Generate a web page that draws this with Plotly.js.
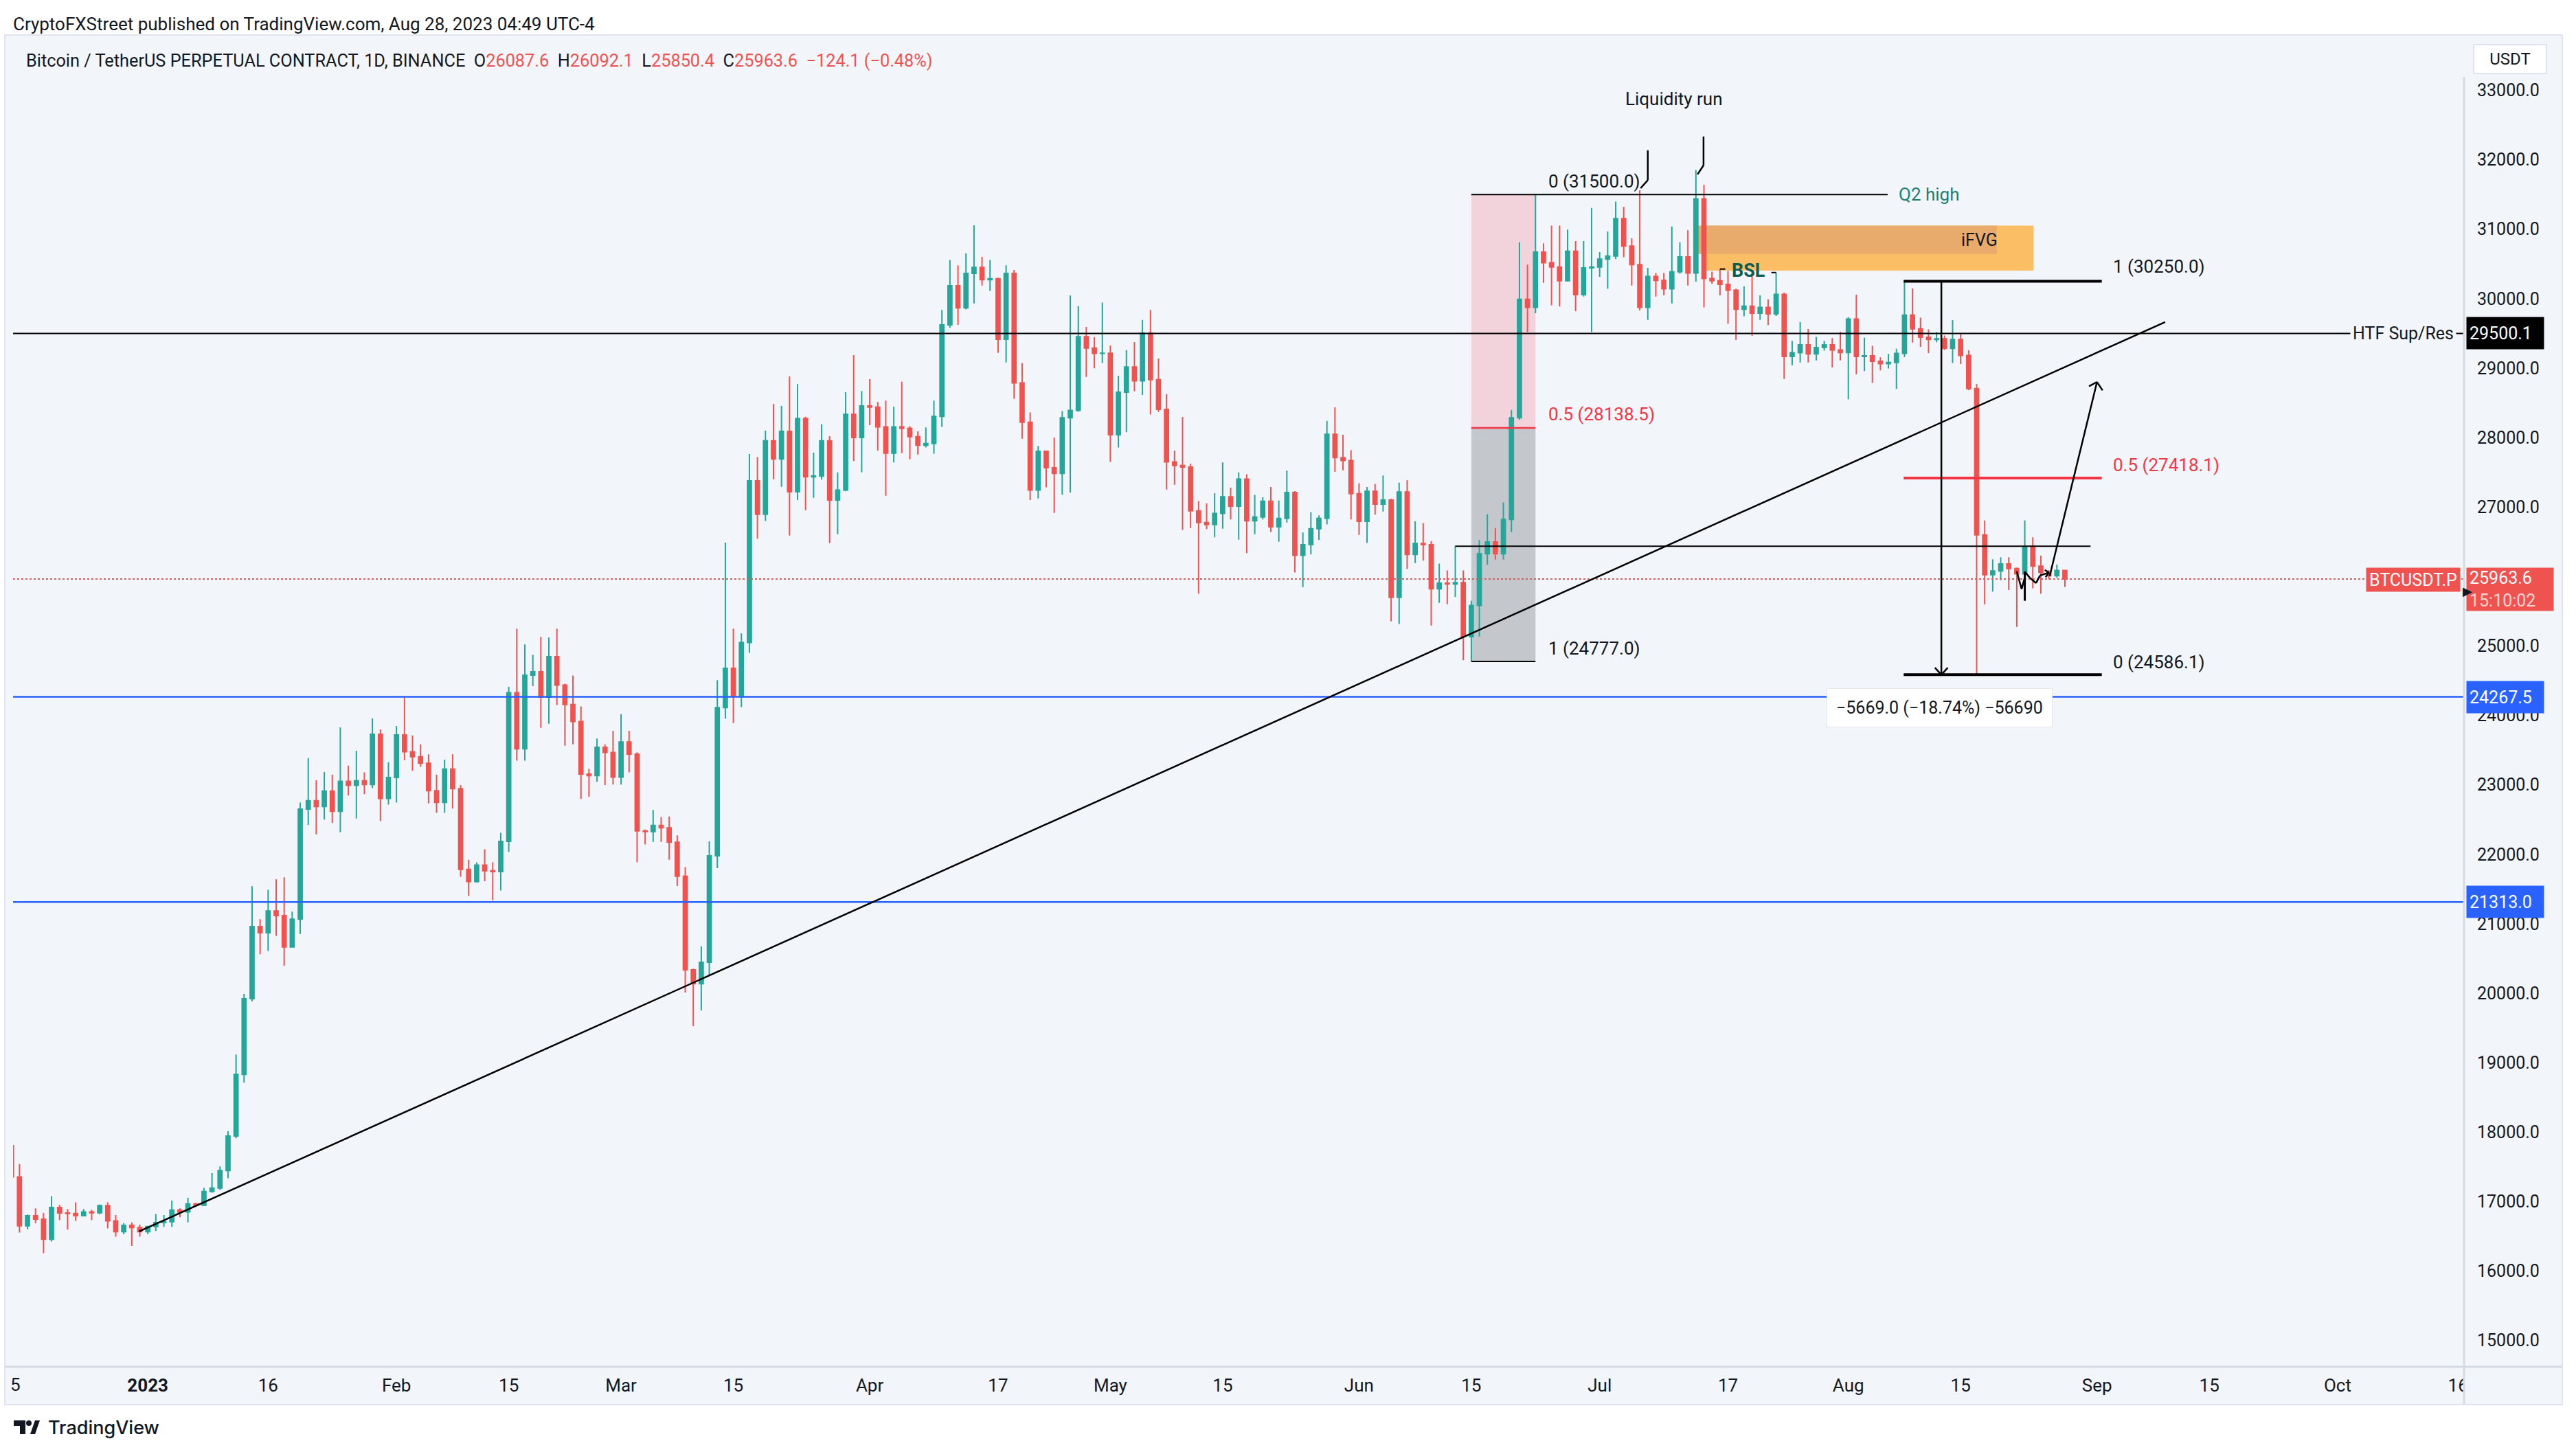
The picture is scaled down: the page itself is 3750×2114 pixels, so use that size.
<!DOCTYPE html>
<html><head><meta charset="utf-8">
<script src="https://cdn.plot.ly/plotly-3.0.1.min.js"></script>
<style>html,body{margin:0;padding:0;background:#fff;}#chart{width:3750px;height:2114px;}</style>
</head><body><div id="chart"></div>
<script>
// ---- Daily candles, BTCUSDT perpetual, from 2022-12-15 to 2023-08-28 ----
const firstDay = '2022-12-15';
const open = [
17806,17356,16651,16797,16748,16458,16916,16835,16829,16797,16852,16838,16942,16722,16567,16658,16626,
16567,16642,16697,16709,16877,16852,16968,16948,17146,17194,17446,17943,18832,19921,20959,20872,21186,21118,20665,21065,22650,22771,22688,22911,22620,23051,22994,23058,23005,23730,22805,
23107,23719,23477,23405,23311,22915,22748,23228,22945,21782,21608,21846,21763,21752,22186,24326,23519,24579,24628,24262,24847,24436,24157,23911,23156,23133,23541,23466,
23111,23617,23443,22337,22326,22416,22382,22175,21684,20336,20136,20446,21978,24111,24678,24274,25050,27378,26897,27953,27692,28089,27219,28275,27434,27447,27953,27101,27245,28335,28002,
28457,28438,28154,27775,28154,28135,28013,27889,27915,28305,29622,30186,29868,30364,30451,30273,30288,29414,30364,28786,28222,27245,27802,27567,27484,28286,28392,29452,29289,29213,
29216,28040,28653,29017,28816,29505,28835,28407,27650,27597,27575,26946,26776,26748,26907,27147,27013,27402,26801,26857,27083,26716,26836,27211,26306,26458,26688,26836,28048,27712,27670,
27193,26794,27228,27041,27101,25699,27218,26317,26476,26459,25822,25904,25893,25911,25133,25584,26328,26498,26328,26822,28286,29990,29876,30672,30518,30456,30257,30683,30058,30444,
30456,30569,30615,31154,30757,30490,29876,30319,30262,30143,30387,30603,30370,31438,30291,30257,30206,30121,29848,29893,29791,29876,29780,30064,29167,29223,29337,29206,29297,29337,29263,
29224,29706,29167,29178,29099,29065,29082,29212,29763,29567,29444,29413,29422,29285,29413,29183,28706,26600,26026,26079,26181,26114,26039,26432,26149,26057,26012,26087.6
];
const high = [
17850,17540,16813,16903,16835,17078,16952,16894,16990,16894,16884,16958,16990,16806,16690,16700,16667,
16651,16822,16806,17013,16903,17055,16980,17200,17410,17507,18014,19117,19990,21540,21065,21488,21639,21669,21174,22745,23386,23066,23186,23148,23828,23277,23492,23179,23957,23798,23326,
23847,24270,23711,23583,23439,23148,23364,23443,22998,21922,21884,22073,21884,22311,24413,25250,25021,24874,25130,25120,25250,24459,24575,24130,23230,23666,23583,23779,
24017,23779,23470,22356,22639,22537,22545,22273,21816,20355,20676,22186,24508,26488,25250,25180,27764,27718,28100,28483,28456,28880,28771,28300,27783,28191,28021,27499,28653,29187,28672,
28842,28513,28532,28445,28805,28165,28089,28146,28532,29838,30557,30481,30652,31057,30603,30557,30303,30481,30413,29073,28362,27881,27810,28002,28381,30046,29895,29592,29448,29944,
29327,28892,29259,29376,29694,29838,29138,28627,27813,28297,27624,27087,27052,27200,27642,27278,27500,27472,27175,27140,27288,27094,27525,27230,26635,26925,26882,28242,28436,28041,27818,
27341,27288,27334,27455,27119,27352,27387,26794,26769,26511,26186,26087,26440,26087,25650,26526,26895,26697,27066,28400,30813,30490,31500,30796,31052,31052,30995,30830,30830,31307,
30671,30967,31398,31324,30870,31560,30444,30370,30370,31040,30813,30984,31852,31637,30388,30427,30399,30144,30177,30399,30047,29990,30376,30087,29394,29666,29564,29450,29394,29433,29524,
29734,30058,29439,29320,29155,29206,29280,30257,30146,29726,29558,29519,29470,29691,29492,29258,28772,26807,26247,26278,26278,26130,26807,26565,26300,26090,26172,26092.1
];
const low = [
17275,16554,16603,16690,16257,16425,16732,16596,16722,16790,16732,16819,16613,16496,16529,16361,16496,
16529,16577,16635,16635,16774,16700,16926,16936,17129,17168,17336,17911,18712,19883,20563,20608,20827,20393,20657,20853,22420,22288,22499,22450,22318,22847,22514,22866,22952,22481,22715,
22745,23356,23202,23258,22733,22598,22598,22658,21676,21401,21593,21612,21337,21480,22035,23349,23349,24421,23821,23880,24149,23564,23583,22798,22830,23043,22998,23005,
23005,23179,21884,22141,22179,22179,21922,21544,20008,19525,19751,20261,21801,23953,23890,24119,24900,26545,26800,27400,27291,26590,27102,26954,27132,27396,26481,26609,27226,27662,27499,
28180,27813,27162,27643,27775,27688,27756,27858,27767,28154,29580,29622,29845,29933,30190,30110,29221,29081,28559,27984,27101,27124,27283,26916,27177,27207,28373,28873,28998,29073,
27650,27858,28078,28665,28615,28332,28369,27253,27320,26670,26697,25752,26682,26564,26688,26822,26529,26335,26610,26822,26642,26500,26776,26059,25847,26317,26528,26751,27507,27529,26822,
26600,26483,26892,26935,25353,25317,26106,26193,26229,25293,25621,25600,25706,24794,24777,25135,26168,26242,26242,26640,28258,29519,29791,30228,29905,29888,30246,29820,30030,29519,
30314,30143,30569,30598,30189,29831,29695,30030,30047,29933,30359,30189,30246,29876,30217,30047,29638,29405,29746,29467,29695,29621,29751,28843,29042,29082,29082,29110,29252,29013,29110,
28553,28911,28957,28786,28968,28996,28701,29159,29369,29307,29218,29373,29263,29073,29060,28680,24586,25598,25783,25950,25805,25275,25990,25827,25752,25960,25980,25850.4
];
const close = [
17356,16651,16797,16748,16458,16916,16835,16829,16797,16852,16838,16942,16722,16567,16658,16626,16567,
16642,16697,16709,16877,16852,16968,16948,17146,17194,17446,17943,18832,19921,20959,20872,21186,21118,20665,21065,22650,22771,22688,22911,22620,23051,22994,23058,23005,23730,22805,23107,
23719,23477,23405,23311,22915,22748,23228,22945,21782,21608,21846,21763,21752,22186,24326,23519,24579,24628,24262,24847,24436,24157,23911,23156,23133,23541,23466,23111,
23617,23443,22337,22326,22416,22382,22175,21684,20336,20136,20446,21978,24111,24678,24274,25050,27378,26897,27953,27692,28089,27219,28275,27434,27447,27953,27101,27245,28335,28002,28457,
28438,28154,27775,28154,28135,28013,27889,27915,28305,29622,30186,29868,30364,30451,30273,30288,29414,30364,28786,28222,27245,27802,27567,27484,28286,28392,29452,29289,29213,29216,
28040,28653,29017,28816,29505,28835,28407,27650,27597,27575,26946,26776,26748,26907,27147,27013,27402,26801,26857,27083,26716,26836,27211,26306,26458,26688,26836,28048,27712,27670,27193,
26794,27228,27041,27101,25699,27218,26317,26476,26459,25822,25904,25893,25911,25133,25584,26328,26498,26328,26822,28286,29990,29876,30672,30518,30456,30257,30683,30058,30444,30456,
30569,30615,31154,30757,30490,29876,30319,30262,30143,30387,30603,30370,31438,30291,30257,30206,30121,29848,29893,29791,29876,29780,30064,29167,29223,29337,29206,29297,29337,29263,29224,
29706,29167,29178,29099,29065,29082,29212,29763,29567,29444,29413,29422,29285,29413,29183,28706,26600,26026,26079,26181,26114,26039,26432,26149,26057,26012,26087.6,25963.6
];

// ---- Axis ticks (26000.0 is hidden behind the last-price tag in the source) ----
const priceTicks = [15000,16000,17000,18000,19000,20000,21000,22000,23000,24000,25000,27000,28000,29000,30000,31000,32000,33000];
const timeTickVals = ['2023-01-01','2023-01-16','2023-02-01','2023-02-15','2023-03-01','2023-03-15','2023-04-01','2023-04-17','2023-05-01','2023-05-15','2023-06-01','2023-06-15','2023-07-01','2023-07-17','2023-08-01','2023-08-15','2023-09-01','2023-09-15','2023-10-01','2023-10-16'];
const timeTickText = ['<b>2023</b>','16','Feb','15','Mar','15','Apr','17','May','15','Jun','15','Jul','17','Aug','15','Sep','15','Oct','16'];

// ---- Drawn levels ----
const htfLevel = 29500.1;
const blueLevels = [24267.5, 21313.0];
const lastPrice = 25963.6;
const fibA = [31500.0, 28138.5, 24777.0];
const fibB = [30250.0, 27418.1, 24586.1];
const rangeLine = 26435;
const ifvgLow = 30404, ifvgMid = 30643, ifvgHigh = 31052;

// ---- helpers ----
const W = 3750, H = 2114, PL = 19, PR = 3587, PT = 51, PB = 1990;
const BG = '#f2f6fa', INK = '#131722', RED = '#ef5350', GREEN = '#26a69a', FIBRED = '#f23645', BLUE = '#2962ff';
const F = 'Roboto, "Liberation Sans", sans-serif';
const px = v => v / W, py = v => 1 - v / H;
function D(s, f) {
  const p = s.split('-').map(Number);
  const t = Date.UTC(p[0], p[1] - 1, p[2]) + (f || 0) * 86400000;
  const iso = new Date(t).toISOString();
  return iso.slice(0, 10) + ' ' + iso.slice(11, 19);
}
const dates = close.map((_, i) => D(firstDay, i).slice(0, 10));

const shapes = [];
function seg(x0, y0, x1, y1, color, width, dash) {
  shapes.push({type: 'line', xref: 'x', yref: 'y', x0, y0, x1, y1, layer: 'above',
    line: {color, width, dash: dash || 'solid'}});
}
function poly(pts, color, width) {
  for (let i = 0; i < pts.length - 1; i++) seg(pts[i][0], pts[i][1], pts[i + 1][0], pts[i + 1][1], color, width);
}
function rect(x0, x1, y0, y1, fill) {
  shapes.push({type: 'rect', xref: 'x', yref: 'y', x0, x1, y0, y1, fillcolor: fill, line: {width: 0}, layer: 'below'});
}
function hline(y, color, width, dash) {
  shapes.push({type: 'line', xref: 'paper', yref: 'y', x0: px(PL), x1: px(PR), y0: y, y1: y, layer: 'above',
    line: {color, width, dash: dash || 'solid'}});
}

// panel background
shapes.push({type: 'rect', xref: 'paper', yref: 'paper', x0: px(7), x1: px(3730), y0: py(2045), y1: py(PT),
  fillcolor: BG, line: {color: '#e0e3eb', width: 2}, layer: 'below'});

// fib box A
rect('2023-06-15', '2023-06-23', fibA[1], fibA[0], '#f3d3db');
rect('2023-06-15', '2023-06-23', fibA[2], fibA[1], '#c4c7cb');
// iFVG
rect(D('2023-07-14', 0.2), D('2023-08-24', 0.1), ifvgLow, ifvgHigh, '#fbbe64');
rect(D('2023-07-13', 0.2), D('2023-08-19', 0.5), ifvgMid, ifvgHigh, '#e8ab6b');

// horizontal full-width levels
hline(htfLevel, '#000000', 2);
blueLevels.forEach(v => hline(v, BLUE, 2.5));
hline(lastPrice, RED, 2, 'dot');

// fib A lines
seg('2023-06-15', fibA[0], D('2023-08-05', 0.9), fibA[0], '#000', 2);
seg('2023-06-15', fibA[1], '2023-06-23', fibA[1], FIBRED, 2.5);
seg('2023-06-15', fibA[2], '2023-06-23', fibA[2], '#000', 2);
// range line
seg('2023-06-13', rangeLine, D('2023-08-31', 0.2), rangeLine, '#000', 2);
// fib B lines
seg(D('2023-08-07', 0.9), fibB[0], D('2023-09-01', 0.6), fibB[0], '#000', 4);
seg(D('2023-08-07', 0.9), fibB[1], D('2023-09-01', 0.6), fibB[1], FIBRED, 4);
seg(D('2023-08-07', 0.9), fibB[2], D('2023-09-01', 0.6), fibB[2], '#000', 4);
// trendline
seg(D('2022-12-30', 0.9), 16570, D('2023-09-09', 0.5), 29664, '#000', 2.5);
// measuring arrow
seg(D('2023-08-12', 0.6), fibB[0], D('2023-08-12', 0.6), fibB[2], '#000', 2.5);
seg(D('2023-08-12', 0.6), fibB[2], D('2023-08-11', 0.8), fibB[2] + 100, '#000', 2.5);
seg(D('2023-08-12', 0.6), fibB[2], D('2023-08-13', 0.4), fibB[2] + 100, '#000', 2.5);
// projected up arrow
seg(D('2023-08-26', 0.1), 26004, D('2023-09-01', 0), 28800, '#000', 2.5);
seg(D('2023-09-01', 0), 28800, D('2023-08-31', 0.0), 28740, '#000', 2.5);
seg(D('2023-09-01', 0), 28800, D('2023-09-01', 0.7), 28680, '#000', 2.5);
// squiggle
poly([[D('2023-08-22', 0), 26075], [D('2023-08-22', 0.6), 25820], [D('2023-08-23', 0), 25985]], '#000', 2.5);
seg(D('2023-08-23', 0), 26070, D('2023-08-23', 0), 25651, '#000', 3);
poly([[D('2023-08-23', 0), 26070], [D('2023-08-23', 0.6), 25985], [D('2023-08-24', 0.4), 25905],
      [D('2023-08-24', 0.9), 26015], [D('2023-08-26', 0), 26057]], '#000', 2.5);
seg(D('2023-08-26', 0), 26057, D('2023-08-25', 0.5), 26095, '#000', 2.5);
seg(D('2023-08-26', 0), 26057, D('2023-08-25', 0.6), 25990, '#000', 2.5);
// liquidity hooks
poly([[D('2023-07-07', 0), 32136], [D('2023-07-07', 0), 31705], [D('2023-07-06', 0.1), 31591]], '#000', 2.5);
poly([[D('2023-07-13', 0.95), 32335], [D('2023-07-13', 0.95), 31920], [D('2023-07-13', 0.2), 31790]], '#000', 2.5);
// BSL ticks
seg('2023-07-16', 30427, D('2023-07-16', 0.65), 30427, '#000', 2);
seg(D('2023-07-22', 0.4), 30376, '2023-07-23', 30376, '#000', 2);

// paper overlays: axis separators, logo
shapes.push({type: 'rect', xref: 'paper', yref: 'paper', x0: px(PR), x1: px(3729), y0: py(2044), y1: py(PB),
  fillcolor: BG, line: {width: 0}, layer: 'above'});
shapes.push({type: 'line', xref: 'paper', yref: 'paper', x0: px(8), x1: px(3729), y0: py(PB), y1: py(PB),
  line: {color: '#d6dbe1', width: 3}, layer: 'above'});
shapes.push({type: 'line', xref: 'paper', yref: 'paper', x0: px(PR), x1: px(PR), y0: py(2044), y1: py(112),
  line: {color: '#d6dbe1', width: 3}, layer: 'above'});
[[20, 37, 2068, 2076], [29, 37, 2068, 2088]].forEach(r => shapes.push({type: 'rect', xref: 'paper', yref: 'paper',
  x0: px(r[0]), x1: px(r[1]), y0: py(r[3]), y1: py(r[2]), fillcolor: INK, line: {width: 0}}));
shapes.push({type: 'circle', xref: 'paper', yref: 'paper', x0: px(38), x1: px(46), y0: py(2076), y1: py(2068),
  fillcolor: INK, line: {width: 0}});
shapes.push({type: 'path', xref: 'paper', yref: 'paper',
  path: `M ${px(44)} ${py(2088)} L ${px(51)} ${py(2068)} L ${px(58)} ${py(2068)} L ${px(51)} ${py(2088)} Z`,
  fillcolor: INK, line: {width: 0}});

// ---- annotations ----
const ann = [];
function txt(x, y, text, o) {
  ann.push(Object.assign({x, y, xref: 'x', yref: 'y', text, showarrow: false, xanchor: 'left', yanchor: 'middle',
    font: {family: F, size: 26, color: INK}}, o || {}));
}
function ptxt(x, y, text, o) {
  ann.push(Object.assign({x: px(x), y: py(y), xref: 'paper', yref: 'paper', text, showarrow: false,
    xanchor: 'left', yanchor: 'middle', font: {family: F, size: 26, color: INK}}, o || {}));
}
const r = s => `<span style="color:${RED}">${s}</span>`;
ptxt(17, 35, 'CryptoFXStreet published on TradingView.com, Aug 28, 2023 04:49 UTC-4');
ptxt(36, 88, 'Bitcoin / TetherUS PERPETUAL CONTRACT, 1D, BINANCE&nbsp; O' + r('26087.6') + '&nbsp; H' + r('26092.1') +
  '&nbsp; L' + r('25850.4') + '&nbsp; C' + r('25963.6') + '&nbsp; ' + r('−124.1 (−0.48%)'),
  {font: {family: F, size: 25.3, color: INK}});
ptxt(3654, 86, 'USDT', {xanchor: 'center', bgcolor: '#ffffff', bordercolor: '#e0e3eb', borderwidth: 2, borderpad: 6,
  width: 92, font: {family: F, size: 24, color: INK}});
ptxt(22, 2016, '5', {xanchor: 'center', font: {family: F, size: 26, color: INK}});
ptxt(68, 2078, 'TradingView', {font: {family: 'Inter, Roboto, sans-serif', size: 27, color: INK, weight: 500}});

txt(D('2023-06-24', 0.4), 31693, '0 (31500.0)');
txt(D('2023-06-24', 0.4), 28335, '0.5 (28138.5)', {font: {family: F, size: 26, color: FIBRED}});
txt(D('2023-06-24', 0.4), 24962, '1 (24777.0)');
txt(D('2023-09-02', 0.8), 30462, '1 (30250.0)');
txt(D('2023-09-02', 0.8), 27606, '0.5 (27418.1)', {font: {family: F, size: 26, color: FIBRED}});
txt(D('2023-09-02', 0.8), 24768, '0 (24586.1)');
txt(D('2023-07-10', 0.3), 32874, 'Liquidity run', {xanchor: 'center'});
txt(D('2023-08-07', 0.1), fibA[0], 'Q2 high', {font: {family: F, size: 26, color: '#1f7f70'}});
txt(D('2023-08-17', 0.3), 30846, 'iFVG', {xanchor: 'center', font: {family: F, size: 25, color: INK}});
txt(D('2023-07-19', 0.6), 30400, '<b>BSL</b>', {xanchor: 'center', font: {family: F, size: 27, color: '#0e5c50'}});
txt(D('2023-08-12', 0.4), 24106, '−5669.0 (−18.74%) −56690', {xanchor: 'center', bgcolor: '#ffffff',
  bordercolor: '#e3e6ec', borderwidth: 1, borderpad: 13, font: {family: F, size: 25, color: INK}});
// HTF label masking the level line
ann.push({xref: 'paper', yref: 'y', x: px(3498), y: htfLevel, text: 'HTF Sup/Res', showarrow: false,
  xanchor: 'center', yanchor: 'middle', bgcolor: BG, borderpad: 3, font: {family: F, size: 25, color: INK}});
// price-axis tags
function tag(y, text, bg, w, h) {
  ann.push({xref: 'paper', yref: 'y', x: px(3590), y, text, showarrow: false, xanchor: 'left', yanchor: 'middle',
    align: 'left', width: w, height: h, bgcolor: bg, borderpad: 4, font: {family: F, size: 25, color: '#ffffff'}});
}
tag(htfLevel, '29500.1', '#000000', 104, 38);
tag(blueLevels[0], '24267.5', BLUE, 104, 38);
tag(blueLevels[1], '21313.0', BLUE, 104, 38);
tag(lastPrice - 148, '25963.6<br><span style="color:rgba(255,255,255,0.75)">15:10:02</span>', RED, 118, 54);
ann.push({xref: 'paper', yref: 'paper', x: px(3582), y: py(844), text: 'BTCUSDT.P', showarrow: false,
  xanchor: 'right', yanchor: 'middle', bgcolor: RED, borderpad: 4, height: 26, font: {family: F, size: 25, color: '#ffffff'}});
ann.push({xref: 'paper', yref: 'paper', x: px(3583), y: py(860), text: '▶', showarrow: false,
  xanchor: 'left', yanchor: 'middle', font: {family: 'DejaVu Sans', size: 18, color: '#131722'}});

const trace = {
  type: 'candlestick', x: dates, open, high, low, close,
  increasing: {line: {color: GREEN, width: 2}, fillcolor: GREEN},
  decreasing: {line: {color: RED, width: 2}, fillcolor: RED},
  whiskerwidth: 0, hoverinfo: 'skip', showlegend: false
};

const layout = {
  width: W, height: H, margin: {l: 0, r: 0, t: 0, b: 0},
  paper_bgcolor: '#ffffff', plot_bgcolor: BG, showlegend: false, dragmode: false,
  xaxis: {domain: [px(PL), px(PR)], type: 'date', range: ['2022-12-15 04:48', '2023-10-16 18:14'],
    rangeslider: {visible: false}, showgrid: false, zeroline: false, showline: false, ticks: '',
    tickmode: 'array', tickvals: timeTickVals, ticktext: timeTickText, ticklabelstandoff: 9,
    tickfont: {family: F, size: 26, color: INK}, fixedrange: true},
  yaxis: {domain: [py(PB), py(PT)], range: [14621, 33796], side: 'right', showgrid: false, zeroline: false,
    showline: false, ticks: '', tickmode: 'array', tickvals: priceTicks, tickformat: '.1f',
    ticklabelstandoff: 18, tickfont: {family: F, size: 25, color: INK}, fixedrange: true},
  shapes, annotations: ann
};
Plotly.newPlot('chart', [trace], layout, {displayModeBar: false, staticPlot: true});
</script></body></html>
